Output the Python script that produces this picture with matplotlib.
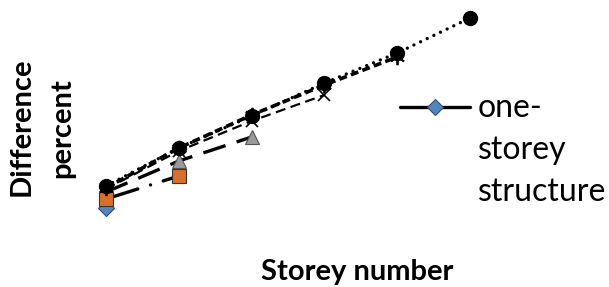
import matplotlib

matplotlib.use("Agg")
import matplotlib.pyplot as plt  # noqa: E402
from matplotlib.lines import Line2D  # noqa: E402

# storey number (x) and difference percent (y) per structure height
storeys = [1, 2, 3, 4, 5, 6]
one_storey = [5.0]
two_storey = [7.25, 13.0]
three_storey = [9.0, 16.75, 22.75]
four_storey = [9.75, 19.25, 26.75, 33.25]
five_storey = [10.0, 20.0, 28.25, 35.75, 42.75]
six_storey = [10.5, 20.0, 28.0, 36.25, 43.75, 52.5]

BLUE = "#4F86C0"
ORANGE = "#D9702A"
GRAY = "#9A9A9A"

plt.rcParams["font.family"] = ["Lato", "DejaVu Sans"]

fig = plt.figure(figsize=(6.09, 2.87), dpi=100)
ax = fig.add_axes([0, 0, 1, 1])
ax.axis("off")

# six-storey: dotted, big black circles
ax.plot(storeys[:6], six_storey, color="black", lw=2.4, ls=(0, (0.01, 2.2)),
        dash_capstyle="round", marker="o", ms=10, mfc="black", mec="black",
        zorder=3)
# five-storey: short thick dashes, star markers
ax.plot(storeys[:5], five_storey, color="black", lw=2.6, ls=(0, (2.2, 1.2)),
        marker=(6, 2, 0), ms=11, mew=1.3, mec="black", zorder=4)
# four-storey: thin dashes, x markers
ax.plot(storeys[:4], four_storey, color="black", lw=1.6, ls=(0, (4.5, 2.5)),
        marker="x", ms=8, mew=1.2, mec="black", zorder=2)
# three-storey: long dash, gray triangles
ax.plot(storeys[:3], three_storey, color="black", lw=2.4, ls=(0, (7, 3.5)),
        marker="^", ms=10, mfc=GRAY, mec="#555555", mew=0.8, zorder=2)
# two-storey: long dash dot, orange squares
ax.plot(storeys[:2], two_storey, color="black", lw=2.4,
        ls=(0, (10, 4, 0.01, 4)), dash_capstyle="round",
        marker="s", ms=10, mfc=ORANGE, mec="#333333", mew=0.8, zorder=2)
# one-storey: single point
ax.plot(storeys[:1], one_storey, color="black", lw=2.4, marker="D", ms=8,
        mfc=BLUE, mec="#2F4F70", mew=0.8, zorder=1)

# pixel-matched data window (x=1 at 106px, x=6 at 470px)
ax.set_xlim(-0.456, 7.909)
ax.set_ylim(-14.75, 57.0)

# legend (only the first entry is visible in the reference)
fig.add_artist(Line2D([400 / 609, 470 / 609], [1 - 107 / 287] * 2,
                      transform=fig.transFigure, color="black", lw=2.4,
                      solid_capstyle="round"))
fig.add_artist(Line2D([435 / 609], [1 - 107 / 287], transform=fig.transFigure,
                      marker="D", ms=8, mfc=BLUE, mec="#2F4F70", mew=0.8))
for txt, py in [("one-", 108), ("storey", 150), ("structure", 192)]:
    fig.text(478 / 609, 1 - py / 287, txt, fontsize=23, ha="left",
             va="center")

fig.text(357 / 609, 1 - 272 / 287, "Storey number", fontsize=21,
         fontweight="bold", ha="center", va="center")
fig.text(22 / 609, 1 - 127 / 287, "Difference", fontsize=21,
         fontweight="bold", rotation=90, ha="center", va="center")
fig.text(62 / 609, 1 - 128 / 287, "percent", fontsize=21,
         fontweight="bold", rotation=90, ha="center", va="center")

fig.savefig("out.png", dpi=100)
